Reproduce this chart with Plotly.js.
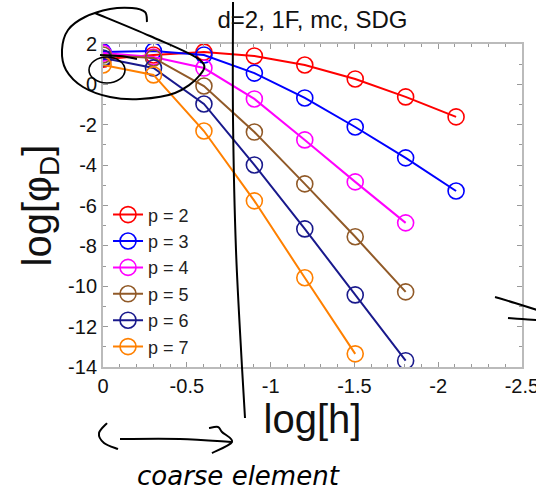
<!DOCTYPE html>
<html>
<head>
<meta charset="utf-8">
<script src="https://cdn.plot.ly/plotly-3.0.1.min.js"></script>
<style>html,body{margin:0;padding:0;background:#fff;}#chart{width:536px;height:500px;}</style>
</head>
<body>
<div id="chart"></div>
<script>
// ---- data ----
const logH = [0, -0.301, -0.602, -0.903, -1.204, -1.505, -1.806, -2.107];
const seriesNames = ["p = 2", "p = 3", "p = 4", "p = 5", "p = 6", "p = 7"];
const p2 = [1.25, 1.46, 1.60, 1.41, 0.96, 0.27, -0.62, -1.61];
const p3 = [1.60, 1.65, 1.46, 0.56, -0.67, -2.11, -3.64, -5.28];
const p4 = [1.55, 1.36, 0.81, -0.72, -2.75, -4.83, -6.86];
const p5 = [1.46, 1.31, -0.08, -2.36, -4.93, -7.55, -10.28];
const p6 = [1.31, 0.81, -0.97, -3.99, -7.16, -10.43, -13.69];
const p7 = [0.96, 0.47, -2.31, -5.77, -9.58, -13.35];
const seriesColors = ["rgb(255,0,0)", "rgb(0,0,255)", "rgb(255,0,255)", "rgb(145,90,40)", "rgb(25,25,140)", "rgb(255,128,0)"];
const xTickVals = [0, -0.5, -1, -1.5, -2, -2.5];
const xTickText = ["0", "-0.5", "-1", "-1.5", "-2", "-2.5"];
const yTickVals = [2, 0, -2, -4, -6, -8, -10, -12, -14];
const yTickText = ["2", "0", "-2", "-4", "-6", "-8", "-10", "-12", "-14"];

const allSeries = [p2, p3, p4, p5, p6, p7];
const FONT = "Liberation Sans, Arial, Helvetica, sans-serif";

const traces = allSeries.map((ys, i) => ({
  x: logH.slice(0, ys.length),
  y: ys,
  name: seriesNames[i],
  type: "scatter",
  mode: "lines+markers",
  line: {color: seriesColors[i], width: 2},
  marker: {symbol: "circle-open", size: 16, color: seriesColors[i], line: {width: 1.6, color: seriesColors[i]}}
}));

// ---- layout geometry (pixels) for hand-drawn overlay ----
const M = {l: 103, r: 14, t: 44, b: 133};
const W = 536, H = 500;
const pw = W - M.l - M.r, ph = H - M.t - M.b;
const px = x => (x - M.l) / pw;
const py = y => (H - M.b - y) / ph;
function smoothPath(pts) {
  const P = pts.map(p => [px(p[0]), py(p[1])]);
  let d = "M" + P[0][0].toFixed(4) + "," + P[0][1].toFixed(4);
  for (let i = 0; i < P.length - 1; i++) {
    const p0 = P[i - 1] || P[i], p1 = P[i], p2_ = P[i + 1], p3_ = P[i + 2] || P[i + 1];
    const c1 = [p1[0] + (p2_[0] - p0[0]) / 6, p1[1] + (p2_[1] - p0[1]) / 6];
    const c2 = [p2_[0] - (p3_[0] - p1[0]) / 6, p2_[1] - (p3_[1] - p1[1]) / 6];
    d += " C" + c1.map(v => v.toFixed(4)).join(",") + " " + c2.map(v => v.toFixed(4)).join(",") + " " + p2_.map(v => v.toFixed(4)).join(",");
  }
  return d;
}
const ink = {color: "black", width: 2};
const strokes = [
  [[95,13],[150,36],[200,60],[199,76],[175,93],[140,99],[110,97],[83,87],[66,70],[62,50],[68,30],[85,17],[110,9],[132,8],[145,12],[147,22]],
  [[100,55],[120,56],[137,59]],
  [[233,2],[233,120],[236,250],[242,367],[245,418]],
  [[107,423],[99,433],[104,443],[118,449]],
  [[120,439],[180,439],[232,442]],
  [[209,428],[218,427],[222,432],[232,442],[212,453]],
  [[495,297],[515,303],[537,310]],
  [[508,318],[522,319],[537,320]]
];
const shapes = strokes.map(s => ({type: "path", xref: "paper", yref: "paper", path: smoothPath(s), line: ink, layer: "above"}));
shapes.push({type: "circle", xref: "paper", yref: "paper", x0: px(89), x1: px(125), y0: py(83), y1: py(57), line: {color: "black", width: 1.6}, layer: "above"});

const layout = {
  width: W, height: H,
  margin: M,
  paper_bgcolor: "white", plot_bgcolor: "white",
  font: {family: FONT, color: "black"},
  title: {text: "d=2, 1F, mc, SDG", font: {family: FONT, size: 24, color: "#111"}, x: 0.5, xref: "paper", xanchor: "center", y: 1 - 20 / H, yref: "container", yanchor: "middle"},
  showlegend: true,
  legend: {x: 0.012, xanchor: "left", y: 0.005, yanchor: "bottom", bgcolor: "rgba(0,0,0,0)", font: {family: FONT, size: 18, color: "#222"}, tracegroupgap: 0},
  xaxis: {
    range: [0.0005, -2.5005], autorange: false,
    tickvals: xTickVals, ticktext: xTickText,
    ticklabeloverflow: "allow",
    ticks: "inside", ticklen: 5, tickwidth: 1, tickcolor: "#999",
    minor: {dtick: 0.1, ticks: "inside", ticklen: 3, tickcolor: "#999", showgrid: false},
    showline: true, linecolor: "#bbb", linewidth: 2, mirror: "allticks",
    showgrid: false, zeroline: false,
    tickfont: {family: FONT, size: 20, color: "#111"},
    title: {text: "log[h]", font: {family: FONT, size: 40, color: "#111"}, standoff: 6},
    automargin: false
  },
  yaxis: {
    range: [-14.002, 2.002], autorange: false,
    tickvals: yTickVals, ticktext: yTickText,
    ticklabeloverflow: "allow",
    ticks: "inside", ticklen: 5, tickwidth: 1, tickcolor: "#999",
    minor: {dtick: 1, ticks: "inside", ticklen: 3, tickcolor: "#999", showgrid: false},
    showline: true, linecolor: "#bbb", linewidth: 2, mirror: "allticks",
    showgrid: false, zeroline: false,
    tickfont: {family: FONT, size: 20, color: "#111"},
    title: {text: "log[φ<sub>D</sub>]", font: {family: FONT, size: 40, color: "#111"}, standoff: 4},
    automargin: false
  },
  shapes: shapes,
  annotations: [{
    text: "<i>coarse element</i>", xref: "paper", yref: "paper", x: px(238), y: py(476),
    xanchor: "center", yanchor: "middle", showarrow: false,
    font: {family: "DejaVu Sans, sans-serif", size: 26, color: "black"}
  }]
};

Plotly.newPlot("chart", traces, layout, {displayModeBar: false, staticPlot: true});
</script>
</body>
</html>
